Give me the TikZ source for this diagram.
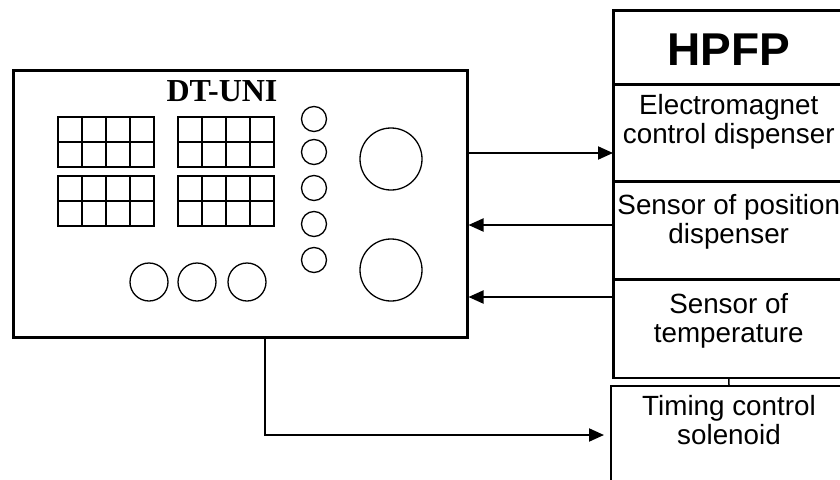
\documentclass[tikz,border=0pt]{standalone}
\usepackage{fontspec}
\setmainfont{Liberation Sans}
\newfontfamily\panelfont{Liberation Serif}
\usetikzlibrary{arrows.meta,calc}

\begin{document}
\begin{tikzpicture}[x=1pt, y=-1pt, >={Triangle[length=15pt,width=13pt]},
  sect/.style={draw, line width=1.5pt, minimum width=230pt, inner sep=0pt, anchor=north west},
  lbl/.style={align=center, anchor=north, inner sep=0pt, font=\fontsize{27.8}{29}\selectfont},
  wire/.style={line width=2pt}]
\clip (0,0) rectangle (840,479);

% tester panel
\node[draw, line width=3pt, minimum width=454pt, minimum height=267pt, inner sep=0pt] (dt) at (240,203.5) {};
\node[font=\panelfont\bfseries\fontsize{32}{36}\selectfont, inner sep=0pt] (dtname) at (222,91) {DT-UNI};
\foreach \gx/\gy in {58/117,178/117,58/176,178/176}
  \foreach \i in {0,...,3}
    \foreach \j in {0,1}
      \draw[line width=1.6pt] (\gx+24*\i,\gy+25*\j) rectangle ++(24,25);
\foreach \cy in {119,152,188,224,260}
  \draw[line width=1.3pt] (314,\cy) circle[radius=12.5pt];
\draw[line width=1.3pt] (391,159) circle[radius=31pt] (391,270) circle[radius=31pt];
\foreach \cx in {149,197,247}
  \draw[line width=1.3pt] (\cx,282) circle[radius=19pt];

% pump
\node[sect, minimum height=73pt] (hpfp) at (613,10) {};
\node[sect, minimum height=95pt] (em) at (hpfp.south west) {};
\node[sect, minimum height=97pt] (pos) at (em.south west) {};
\node[sect, minimum height=97pt] (temp) at (pos.south west) {};
\draw[line width=2.5pt] (hpfp.north west) rectangle (temp.south east);
\node[font=\bfseries\fontsize{46}{50}\selectfont, inner sep=0pt] (hpfpname) at ($(hpfp.center)+(0,2.5)$) {HPFP};
\node[lbl] (emtext) at ($(em.north)+(0,10)$) {Electromagnet\\control dispenser};
\node[lbl] (postext) at ($(pos.north)+(0,13)$) {Sensor of position\\dispenser};
\node[lbl] (temptext) at ($(temp.north)+(0,14)$) {Sensor of\\temperature};

\node[draw, line width=2pt, minimum width=236pt, minimum height=98pt, inner sep=0pt, anchor=north west] (tim) at (610,385) {};
\node[lbl] (timtext) at ($(tim.north)+(0,10)$) {Timing control\\solenoid};
\draw[line width=1.5pt] (temp.south) -- (tim.north);

\draw[wire,->] (dt.east |- 0,153) -- (em.west |- 0,153);
\draw[wire,->] (pos.west |- 0,225) -- (dt.east |- 0,225);
\draw[wire,->] (temp.west |- 0,297) -- (dt.east |- 0,297);
\draw[wire,->,shorten >=6pt] (dt.south -| 265,0) |- (tim.west);
\end{tikzpicture}
\end{document}
